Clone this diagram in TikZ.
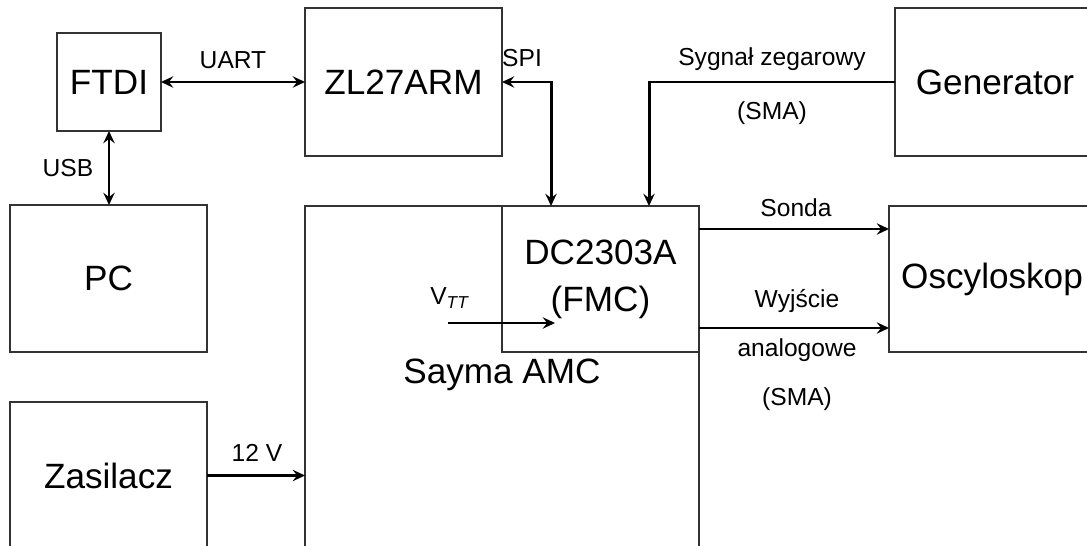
\documentclass[tikz,border=0pt]{standalone}
\usepackage{fontspec}
\setmainfont{Liberation Sans}
\usetikzlibrary{arrows.meta,positioning,calc}

\begin{document}
\begin{tikzpicture}[>={Stealth[length=7pt,width=6.5pt,inset=2.5pt]},
  font=\fontsize{14}{17}\selectfont,
  blk/.style={draw=black!80, line width=0.8pt, inner sep=0pt, outer sep=0pt,
              align=center, font=\fontsize{20}{26.6}\selectfont},
  big/.style={blk, minimum width=3.94cm, minimum height=2.94cm},
  lbl/.style={inner sep=0pt, align=center},
  wire/.style={line width=1.7pt}]

\useasboundingbox (0,0) rectangle (21.74,-10.92);
\clip (0,0) rectangle (21.74,-10.92);

% --- blocks ---
\node[blk, minimum width=2.08cm, minimum height=1.96cm] (ftdi) at (2.18,-1.64) {FTDI};
\node[big, minimum height=2.96cm] (zl) at (8.07,-1.64) {ZL27ARM};
\node[big] (pc) at (2.17,-5.57) {PC};
\node[big] (zas) at (2.17,-9.51) {Zasilacz};
\node[blk, minimum width=7.88cm, minimum height=7.4cm] (sayma) at (10.04,-7.82) {};
\node[lbl, font=\fontsize{20}{24}\selectfont] (saymalbl) at (10.04,-7.5) {Sayma AMC};
\node[big, minimum height=2.92cm, fill=white] (dc) at (12.01,-5.58) {DC2303A\\(FMC)};
\node[big, minimum width=4cm, minimum height=2.96cm] (gen) at (19.9,-1.64) {Generator};
\node[big, minimum width=4.12cm, minimum height=2.92cm] (osc) at (19.84,-5.58) {Oscyloskop};

% --- links ---
\draw[wire, <->] (ftdi.east) -- (zl.west);
\draw[wire, <->] (ftdi.south) -- (ftdi.south |- pc.north);
\draw[wire, <->] (zl.east) -| ($(dc.north)+(-0.99,0)$);
\draw[wire, ->] (gen.west) -| ($(dc.north)+(0.97,0)$);
\draw[wire, ->] ($(dc.north east)+(0,-0.46)$) -- ($(osc.north west)+(0,-0.46)$);
\draw[wire, ->] ($(dc.north east)+(0,-2.44)$) -- ($(osc.north west)+(0,-2.44)$);
\draw[wire, ->] (zas.east) -- (zas.east -| sayma.west);
\coordinate (vtin) at (8.96,-6.46);
\coordinate (vtout) at (11.10,-6.46);
\draw[wire, ->] (vtin) -- (vtout);

% --- labels ---
\node[lbl] (uart) at (4.66,-1.2) {UART};
\node[lbl] (usb) at (1.36,-3.36) {USB};
\node[lbl] (spi) at (10.44,-1.16) {SPI};
\node[lbl, font=\fontsize{14}{30.6}\selectfont] (clk) at (15.44,-1.72) {Sygnał zegarowy\\(SMA)};
\node[lbl] (sonda) at (15.92,-4.16) {Sonda};
\node[lbl, font=\fontsize{14}{27.8}\selectfont] (analog) at (15.94,-7.0) {Wyjście\\analogowe\\(SMA)};
\node[lbl] (vtt) at (9.0,-5.96) {V\textsubscript{\textit{TT}}};
\node[lbl] (twelve) at (5.14,-9.06) {12 V};
\end{tikzpicture}
\end{document}
